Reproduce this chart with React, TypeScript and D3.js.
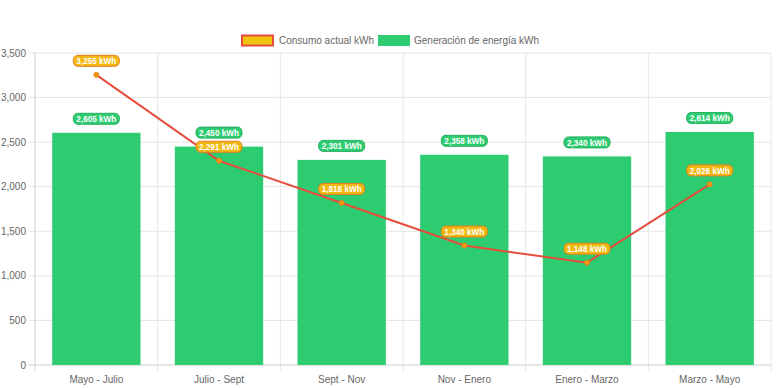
import React from 'react';
import * as d3 from 'd3';

const periods = ['Mayo - Julio', 'Julio - Sept', 'Sept - Nov', 'Nov - Enero', 'Enero - Marzo', 'Marzo - Mayo'];
const generacion = [2605, 2450, 2301, 2358, 2340, 2614];
const consumo = [3255, 2291, 1818, 1340, 1148, 2026];
const yTicks = [0, 500, 1000, 1500, 2000, 2500, 3000, 3500];

const W = 776;
const H = 388;
const margin = { top: 53, right: 5, bottom: 23, left: 35 };
const FONT = '"Liberation Sans", Arial, Helvetica, sans-serif';

const fmt = d3.format(',');

const Label = ({ x, y, text, fill, stroke }) => {
  const w = 46;
  return (
    <g transform={`translate(${x},${y})`}>
      <rect x={-w / 2} y={-5.5} width={w} height={11} rx={4.5} ry={4.5} fill={fill} stroke={stroke} strokeWidth={1} />
      <text
        textAnchor="middle"
        dominantBaseline="central"
        y={0.4}
        fontSize={8.5}
        fontWeight="bold"
        fill="#fff"
        fontFamily={FONT}
        textLength={40}
        lengthAdjust="spacingAndGlyphs"
      >
        {text}
      </text>
    </g>
  );
};

const App = () => {
  const x0 = margin.left;
  const x1 = W - margin.right;
  const y0 = H - margin.bottom;
  const y1 = margin.top;

  const xScale = d3.scaleBand().domain(periods).range([x0, x1]).paddingInner(0).paddingOuter(0);
  const yScale = d3.scaleLinear().domain([0, 3500]).range([y0, y1]);
  const bw = xScale.bandwidth();
  const barW = bw * 0.72;
  const cx = (p) => xScale(p) + bw / 2;

  const line = d3
    .line()
    .x((d, i) => cx(periods[i]))
    .y((d) => yScale(d));

  const gridLines = periods.map((p) => xScale(p)).concat([x1]);

  return (
    <svg width={W} height={H} style={{ position: 'absolute', left: 0, top: 0 }} fontFamily={FONT}>
      <rect width={W} height={H} fill="#fff" />

      {/* legend */}
      <g>
        <rect x={242} y={35.5} width={31} height={10} fill="#f1c40f" stroke="#e74c3c" strokeWidth={2} />
        <text x={279} y={40.5} fontSize={10} fill="#666" dominantBaseline="central">Consumo actual kWh</text>
        <rect x={378} y={35} width={32} height={11} fill="#2ecc71" />
        <text x={414} y={40.5} fontSize={10} fill="#666" dominantBaseline="central">Generación de energía kWh</text>
      </g>

      {/* grid */}
      {yTicks.map((t) => (
        <g key={t}>
          <line x1={x0 - 6} x2={x1} y1={yScale(t)} y2={yScale(t)} stroke="#e6e6e6" strokeWidth={1} />
          <text x={x0 - 9} y={yScale(t)} textAnchor="end" dominantBaseline="central" fontSize={10} fill="#666">
            {fmt(t)}
          </text>
        </g>
      ))}
      {gridLines.map((gx, i) => (
        <line key={i} x1={gx} x2={gx} y1={y1} y2={y0 + 6} stroke="#e6e6e6" strokeWidth={1} />
      ))}
      <line x1={x0} x2={x0} y1={y1} y2={y0 + 6} stroke="#d9d9d9" />
      <line x1={x0 - 6} x2={x1} y1={y0} y2={y0} stroke="#d9d9d9" />

      {/* x labels */}
      {periods.map((p) => (
        <text key={p} x={cx(p)} y={379.5} textAnchor="middle" dominantBaseline="central" fontSize={10} fill="#666">
          {p}
        </text>
      ))}

      {/* bars */}
      {periods.map((p, i) => (
        <rect
          key={p}
          x={cx(p) - barW / 2}
          y={yScale(generacion[i])}
          width={barW}
          height={y0 - yScale(generacion[i])}
          fill="#2ecc71"
        />
      ))}

      {/* line */}
      <path d={line(consumo)} fill="none" stroke="#e74c3c" strokeWidth={2} />
      {consumo.map((v, i) => (
        <circle key={i} cx={cx(periods[i])} cy={yScale(v)} r={2.5} fill="#f39c12" stroke="#e67e22" strokeWidth={1} />
      ))}

      {/* data labels */}
      {generacion.map((v, i) => (
        <Label key={'g' + i} x={cx(periods[i])} y={yScale(v) - 14} text={`${fmt(v)} kWh`} fill="#2ecc71" stroke="#27ae60" />
      ))}
      {consumo.map((v, i) => (
        <Label key={'c' + i} x={cx(periods[i])} y={yScale(v) - 14} text={`${fmt(v)} kWh`} fill="#f1b80f" stroke="#e67e22" />
      ))}
    </svg>
  );
};

export default App;
